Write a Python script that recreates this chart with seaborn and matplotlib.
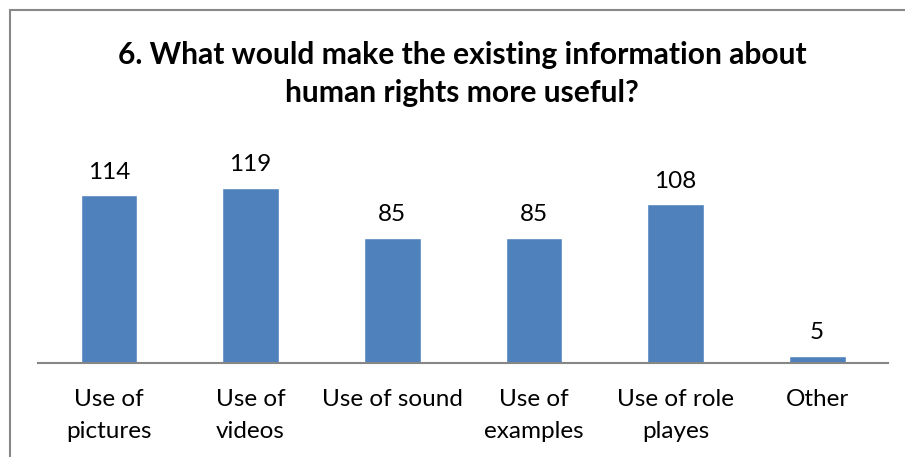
import matplotlib
matplotlib.use("Agg")
import matplotlib.pyplot as plt
import seaborn as sns
import pandas as pd
from matplotlib.lines import Line2D

categories = ["Use of\npictures", "Use of\nvideos", "Use of sound", "Use of\nexamples", "Use of role\nplayes", "Other"]
values = [114, 119, 85, 85, 108, 5]
title = "6. What would make the existing information about\nhuman rights more useful?"

sns.set_theme(style="white")
plt.rcParams['font.family'] = ['Lato', 'DejaVu Sans']
plt.rcParams['text.color'] = '#000000'

W, H = 905, 457
fig = plt.figure(figsize=(W / 100, H / 100), dpi=100)
ax = fig.add_axes([38 / W, (H - 363) / H, (888 - 38) / W, (363 - 157) / H])

df = pd.DataFrame({"cat": categories, "val": values})
sns.barplot(data=df, x="cat", y="val", color="#4F81BD", saturation=1, width=0.4, ax=ax)
ax.set_ylim(0, 140)
ax.set_xlim(-0.5, 5.5)
for c in ax.containers:
    ax.bar_label(c, labels=[str(v) for v in values], padding=9, fontsize=17.5, color="#000000")

for s in ["top", "right", "left"]:
    ax.spines[s].set_visible(False)
ax.spines["bottom"].set_color("#868686")
ax.spines["bottom"].set_linewidth(1.5)
ax.set_yticks([])
ax.set_xlabel("")
ax.set_ylabel("")
ax.tick_params(axis="x", length=0, pad=19, labelsize=17.5, labelcolor="#000000")
for t in ax.get_xticklabels():
    t.set_linespacing(1.6)

fig.text(462 / W, 1 - 74 / H, title, ha="center", va="center", fontsize=21.6,
         fontweight="bold", linespacing=1.45, color="#000000")

# frame
fig.add_artist(Line2D([9.5 / W, 9.5 / W], [0, 1 - 10 / H], color="#888888", lw=1.5, transform=fig.transFigure))
fig.add_artist(Line2D([9.5 / W, 1], [1 - 10 / H, 1 - 10 / H], color="#888888", lw=1.5, transform=fig.transFigure))

fig.savefig("out.png", dpi=100)
